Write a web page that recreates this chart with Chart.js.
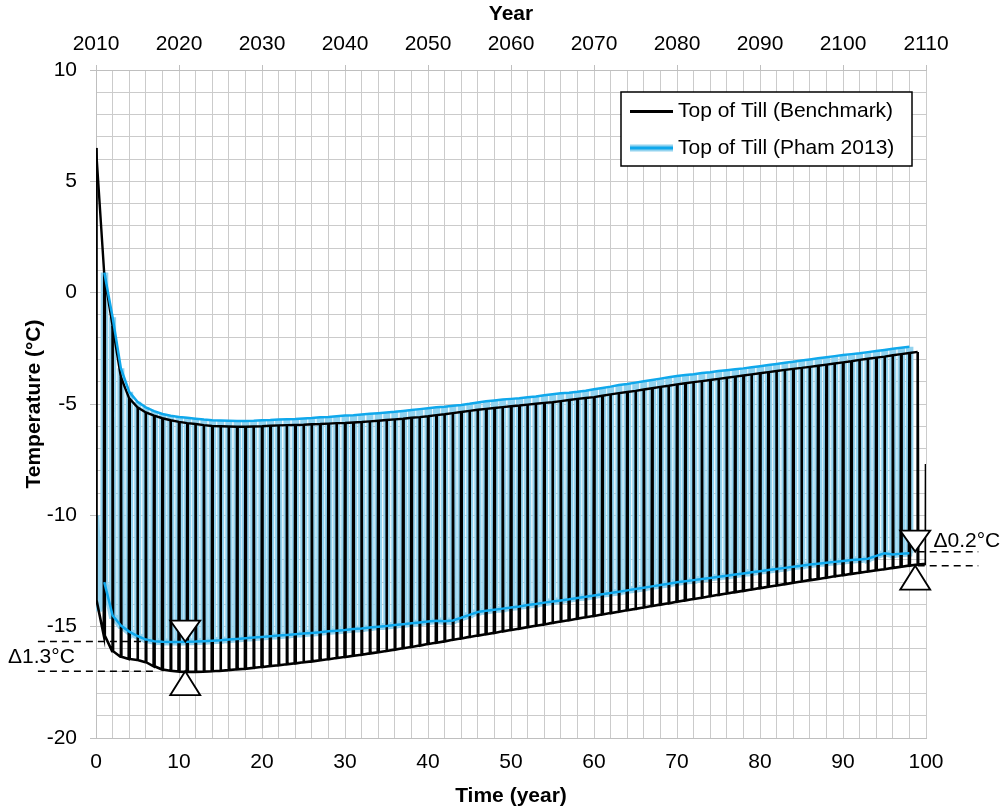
<!DOCTYPE html>
<html>
<head>
<meta charset="utf-8">
<script src="https://cdn.jsdelivr.net/npm/chart.js@4.4.1/dist/chart.umd.min.js"></script>
<style>
  html, body { margin: 0; padding: 0; background: #fff; }
</style>
</head>
<body>
<canvas id="Chart" width="1005" height="809"></canvas>
<script>
// yearly peaks / troughs (index = year since 2010)
const blackHigh = [6.5, 0.8, -1.5, -3.8, -4.75, -5.15, -5.38, -5.52, -5.64, -5.73,
  -5.8, -5.86, -5.9, -5.95, -5.99, -6.0, -6.01, -6.02, -6.02, -6.01,
  -6.0, -5.98, -5.96, -5.95, -5.94, -5.93, -5.91, -5.9, -5.88, -5.86,
  -5.85, -5.83, -5.81, -5.78, -5.75, -5.72, -5.69, -5.66, -5.62, -5.59,
  -5.55, -5.5, -5.46, -5.41, -5.36, -5.31, -5.26, -5.22, -5.18, -5.14,
  -5.1, -5.07, -5.03, -4.99, -4.95, -4.92, -4.87, -4.82, -4.77, -4.73,
  -4.69, -4.63, -4.57, -4.51, -4.46, -4.41, -4.35, -4.29, -4.23, -4.18,
  -4.12, -4.07, -4.02, -3.97, -3.92, -3.87, -3.82, -3.77, -3.72, -3.67,
  -3.62, -3.57, -3.52, -3.47, -3.42, -3.38, -3.33, -3.28, -3.23, -3.18,
  -3.13, -3.08, -3.02, -2.97, -2.92, -2.87, -2.81, -2.76, -2.71, -2.66];
const blackLow = [-13.8, -15.4, -16.1, -16.35, -16.45, -16.5, -16.6, -16.78, -16.92, -16.98,
  -17.02, -17.03, -17.03, -17.02, -17.0, -16.98, -16.95, -16.92, -16.89, -16.85,
  -16.81, -16.77, -16.73, -16.69, -16.65, -16.6, -16.56, -16.51, -16.46, -16.41,
  -16.36, -16.31, -16.26, -16.2, -16.15, -16.09, -16.03, -15.97, -15.91, -15.85,
  -15.78, -15.72, -15.66, -15.59, -15.53, -15.46, -15.4, -15.34, -15.28, -15.21,
  -15.15, -15.09, -15.02, -14.96, -14.9, -14.83, -14.77, -14.71, -14.64, -14.58,
  -14.52, -14.45, -14.39, -14.33, -14.26, -14.2, -14.14, -14.07, -14.01, -13.95,
  -13.88, -13.82, -13.76, -13.7, -13.63, -13.57, -13.51, -13.45, -13.39, -13.33,
  -13.27, -13.21, -13.15, -13.09, -13.03, -12.97, -12.91, -12.86, -12.8, -12.74,
  -12.69, -12.63, -12.58, -12.52, -12.47, -12.42, -12.36, -12.31, -12.26, -12.21];
const blueHigh = [null, 0.9, -1.1, -3.4, -4.45, -4.9, -5.15, -5.32, -5.45, -5.53,
  -5.58, -5.62, -5.66, -5.7, -5.73, -5.74, -5.75, -5.76, -5.76, -5.75,
  -5.73, -5.72, -5.7, -5.68, -5.67, -5.65, -5.63, -5.6, -5.58, -5.55,
  -5.52, -5.5, -5.47, -5.44, -5.41, -5.38, -5.35, -5.31, -5.27, -5.23,
  -5.19, -5.15, -5.12, -5.08, -5.04, -4.99, -4.93, -4.88, -4.84, -4.8,
  -4.77, -4.74, -4.7, -4.66, -4.61, -4.56, -4.52, -4.49, -4.45, -4.4,
  -4.34, -4.28, -4.22, -4.15, -4.1, -4.04, -3.98, -3.92, -3.86, -3.8,
  -3.74, -3.7, -3.66, -3.61, -3.57, -3.52, -3.48, -3.44, -3.4, -3.35,
  -3.3, -3.25, -3.2, -3.15, -3.1, -3.05, -3.0, -2.95, -2.9, -2.85,
  -2.8, -2.76, -2.72, -2.67, -2.62, -2.57, -2.52, -2.47, -2.43];
const blueLow = [-14.3, -13.0, -14.5, -14.95, -15.22, -15.42, -15.58, -15.65, -15.68, -15.69,
  -15.69, -15.68, -15.67, -15.65, -15.63, -15.61, -15.58, -15.55, -15.52, -15.49,
  -15.46, -15.43, -15.4, -15.37, -15.34, -15.31, -15.28, -15.25, -15.21, -15.18,
  -15.15, -15.11, -15.08, -15.04, -15.0, -14.97, -14.93, -14.89, -14.85, -14.81,
  -14.77, -14.73, -14.76, -14.72, -14.6, -14.47, -14.34, -14.29, -14.24, -14.19,
  -14.14, -14.09, -14.03, -13.98, -13.92, -13.87, -13.82, -13.77, -13.71, -13.66,
  -13.6, -13.54, -13.49, -13.43, -13.37, -13.31, -13.25, -13.19, -13.13, -13.07,
  -13.01, -12.96, -12.91, -12.86, -12.81, -12.76, -12.71, -12.66, -12.61, -12.56,
  -12.51, -12.46, -12.41, -12.36, -12.31, -12.26, -12.21, -12.17, -12.13, -12.09,
  -12.05, -12.01, -11.98, -11.95, -11.82, -11.7, -11.76, -11.72, -11.7];
const blueStart = -10;
const blackEndLow = -12.18;
const blackEnd = -7.7;

const labels = ['Top of Till (Benchmark)', 'Top of Till (Pham 2013)'];
const blackColor = '#000000';
const blueColor = '#0fa8ec';
const lightBlue = '#93d3ef';
const FONT = '"Liberation Sans", Arial, sans-serif';

// markers for the two differences
const gaps = [
  { x: 10.75, top: -15.67, bottom: -17.0, text: '\u03941.3\u00b0C', textX: -10.6, textY: -16.35,
    dashTop: [-7.0, 6.2], dashBottom: [-7.0, 7.4] },
  { x: 98.7, top: -11.63, bottom: -12.26, text: '\u03940.2\u00b0C', textX: 100.9, textY: -11.15,
    dashTop: [99.0, 106.3], dashBottom: [99.0, 106.3] }
];

// build the line points: one narrow spike per year
const w = 0.06;
let blackLine = [], blackTop = [];
for (let i = 0; i < blackHigh.length; i++) {
  if (i > 0) blackLine.push({x: i - w, y: blackLow[i]});
  blackLine.push({x: i, y: blackHigh[i]});
  blackLine.push({x: i + w, y: blackLow[i]});
  blackTop.push({x: i, y: blackHigh[i]});
}
blackLine.push({x: 99.97, y: blackEndLow});
blackLine.push({x: 100, y: blackEnd});

let blueLine = [{x: 0, y: blueStart}, {x: 0.35, y: blueLow[0]}], blueTop = [], blueBottom = [];
for (let i = 1; i < blueHigh.length; i++) {
  blueLine.push({x: i - w, y: blueLow[i]});
  blueLine.push({x: i, y: blueHigh[i]});
  blueLine.push({x: i + w, y: blueLow[i]});
  blueTop.push({x: i, y: blueHigh[i]});
  blueBottom.push({x: i, y: blueLow[i]});
}

const lineDefaults = { pointRadius: 0, tension: 0, fill: false, borderJoinStyle: 'miter' };

const overlay = {
  id: 'overlay',
  afterDraw(chart) {
    const c = chart.ctx, xs = chart.scales.x, ys = chart.scales.y, area = chart.chartArea;
    c.save();
    // difference markers
    gaps.forEach(g => {
      const cx = xs.getPixelForValue(g.x);
      const yt = ys.getPixelForValue(g.top), yb = ys.getPixelForValue(g.bottom);
      c.setLineDash([7, 5]);
      c.lineWidth = 1.5;
      c.strokeStyle = '#000';
      c.beginPath();
      c.moveTo(xs.getPixelForValue(g.dashTop[0]), yt);
      c.lineTo(xs.getPixelForValue(g.dashTop[1]), yt);
      c.moveTo(xs.getPixelForValue(g.dashBottom[0]), yb);
      c.lineTo(xs.getPixelForValue(g.dashBottom[1]), yb);
      c.stroke();
      c.setLineDash([]);
      c.fillStyle = '#fff';
      c.lineWidth = 1.8;
      c.beginPath();
      c.moveTo(cx, yt); c.lineTo(cx - 15, yt - 21); c.lineTo(cx + 15, yt - 21); c.closePath();
      c.fill(); c.stroke();
      c.beginPath();
      c.moveTo(cx, yb); c.lineTo(cx - 15, yb + 24); c.lineTo(cx + 15, yb + 24); c.closePath();
      c.fill(); c.stroke();
      c.fillStyle = '#000';
      c.font = '21px ' + FONT;
      c.textAlign = 'left';
      c.textBaseline = 'middle';
      c.fillText(g.text, xs.getPixelForValue(g.textX), ys.getPixelForValue(g.textY));
    });
    // legend box
    const lx = area.right - 305, ly = area.top + 22, lw = 291, lh = 74;
    c.fillStyle = '#fff';
    c.fillRect(lx, ly, lw, lh);
    c.strokeStyle = '#000';
    c.lineWidth = 1.5;
    c.strokeRect(lx, ly, lw, lh);
    const rows = [ly + 19.5, ly + 56];
    c.lineCap = 'butt';
    c.strokeStyle = blackColor; c.lineWidth = 3;
    c.beginPath(); c.moveTo(lx + 9, rows[0]); c.lineTo(lx + 52, rows[0]); c.stroke();
    c.strokeStyle = lightBlue; c.lineWidth = 7;
    c.beginPath(); c.moveTo(lx + 9, rows[1]); c.lineTo(lx + 52, rows[1]); c.stroke();
    c.strokeStyle = blueColor; c.lineWidth = 3;
    c.beginPath(); c.moveTo(lx + 9, rows[1]); c.lineTo(lx + 52, rows[1]); c.stroke();
    c.fillStyle = '#000';
    c.font = '21px ' + FONT;
    c.textAlign = 'left';
    c.textBaseline = 'middle';
    c.fillText(labels[0], lx + 57, rows[0]);
    c.fillText(labels[1], lx + 57, rows[1]);
    c.restore();
  }
};

const tickFont = { family: FONT, size: 21 };
const titleFont = { family: FONT, size: 21, weight: 'bold' };
const gridColor = '#cbcbcb';

const ctx = document.getElementById('Chart').getContext('2d');
const my_chart = new Chart(ctx, {
  type: 'line',
  data: {
    datasets: [
      Object.assign({ label: labels[1] + ' max', data: blueTop, borderColor: blueColor, borderWidth: 2.5, order: 0 }, lineDefaults),
      Object.assign({ label: labels[1] + ' min', data: blueBottom, borderColor: blueColor, borderWidth: 2.5, order: 0 }, lineDefaults),
      Object.assign({ label: labels[0] + ' max', data: blackTop, borderColor: blackColor, borderWidth: 2.4, order: 1 }, lineDefaults),
      Object.assign({ label: labels[0], data: blackLine, borderColor: blackColor, borderWidth: 2.6, order: 2 }, lineDefaults),
      Object.assign({ label: labels[1], data: blueLine, borderColor: lightBlue, borderWidth: 7, order: 3 }, lineDefaults)
    ]
  },
  options: {
    responsive: false,
    animation: false,
    devicePixelRatio: 1,
    layout: { padding: { left: 0, right: 79, top: 0, bottom: 0 } },
    plugins: { legend: { display: false }, tooltip: { enabled: false } },
    scales: {
      x: {
        type: 'linear', position: 'bottom', min: 0, max: 100,
        ticks: { stepSize: 2, autoSkip: false, maxRotation: 0, padding: 6, color: '#000', font: tickFont,
          callback: v => v % 10 === 0 ? String(v) : '' },
        grid: { color: gridColor, lineWidth: 1, tickLength: 6, tickColor: 'transparent' },
        border: { color: '#bfbfbf' },
        title: { display: true, text: 'Time (year)', color: '#000', font: titleFont, padding: { top: 3, bottom: 0 } },
        afterFit: s => { s.height = 71; }
      },
      x2: {
        type: 'linear', position: 'top', min: 2010, max: 2110,
        ticks: { stepSize: 10, autoSkip: false, maxRotation: 0, padding: 8, color: '#000', font: tickFont,
          callback: v => String(v) },
        grid: { drawOnChartArea: false, color: '#bfbfbf', tickLength: 5 },
        border: { color: '#bfbfbf' },
        title: { display: true, text: 'Year', color: '#000', font: titleFont, padding: { top: 2, bottom: 0 } },
        afterFit: s => { s.height = 70; }
      },
      y: {
        type: 'linear', min: -20, max: 10,
        ticks: { stepSize: 1, autoSkip: false, padding: 13, color: '#000', font: tickFont,
          callback: v => v % 5 === 0 ? String(v) : '' },
        grid: { color: gridColor, lineWidth: 1, tickLength: 6,
          tickColor: c => (c.tick && c.tick.value % 5 === 0) ? '#bfbfbf' : 'transparent' },
        border: { color: '#bfbfbf' },
        title: { display: true, text: 'Temperature (\u00b0C)', color: '#000', font: titleFont, padding: { top: 22, bottom: 0 } },
        afterFit: s => { s.width = 96; }
      }
    }
  },
  plugins: [overlay]
});
</script>
</body>
</html>
